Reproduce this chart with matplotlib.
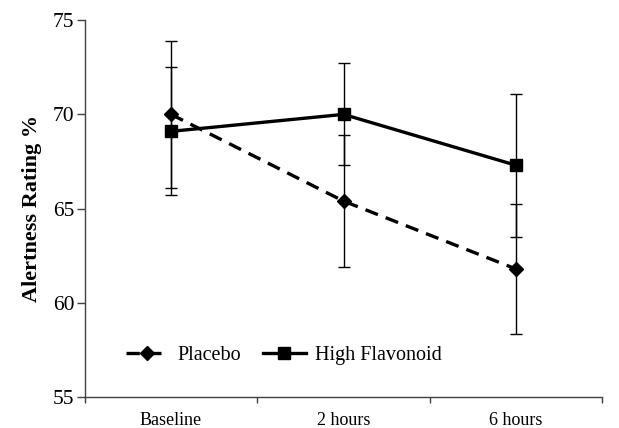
import numpy as np
import matplotlib
matplotlib.use("Agg")
import matplotlib.pyplot as plt

plt.rcParams["font.family"] = ["Liberation Serif", "DejaVu Serif"]

# ─── DATA ─────────────────────────────────────────────────────────────────────
categories    = ["Baseline", "2 hours", "6 hours"]
placebo       = [70.0, 65.4, 61.8]
placebo_err   = [3.9, 3.5, 3.45]
flavonoid     = [69.1, 70.0, 67.3]
flavonoid_err = [3.4, 2.7, 3.8]
y_ticks       = [55, 60, 65, 70, 75]

x = np.arange(len(categories))

fig = plt.figure(figsize=(6.19, 4.28), dpi=100)
ax = fig.add_axes([0.137, 0.072, 0.836, 0.881])

# error bars (thin, solid)
ax.errorbar(x, placebo, yerr=placebo_err, fmt="none", ecolor="black",
            elinewidth=1, capsize=4, capthick=1, zorder=2)
ax.errorbar(x, flavonoid, yerr=flavonoid_err, fmt="none", ecolor="black",
            elinewidth=1, capsize=4, capthick=1, zorder=2)

# series lines
ax.plot(x, placebo, color="black", lw=2.4, ls=(0, (4, 2.5)), marker="D",
        ms=7, label="Placebo", zorder=3)
ax.plot(x, flavonoid, color="black", lw=2.4, ls="-", marker="s",
        ms=9, label="High Flavonoid", zorder=3)

ax.set_xlim(-0.5, 2.5)
ax.set_ylim(55, 75)
ax.set_yticks(y_ticks)
ax.set_xticks(x)
ax.set_xticklabels(categories)
ax.set_xticks([-0.5, 0.5, 1.5, 2.5], minor=True)
ax.tick_params(axis="x", which="major", length=0, pad=11, labelsize=13)
ax.tick_params(axis="x", which="minor", length=4, direction="out", width=1,
               color="#404040")
ax.tick_params(axis="y", length=5.5, direction="out", width=1, labelsize=15.5,
               pad=2, color="#404040")

for s in ["top", "right"]:
    ax.spines[s].set_visible(False)
for s in ["left", "bottom"]:
    ax.spines[s].set_linewidth(1)
    ax.spines[s].set_color("#404040")

ax.set_ylabel("Alertness Rating %", fontsize=16, fontweight="bold", labelpad=8)

ax.legend(loc="lower left", bbox_to_anchor=(0.045, 0.037), ncol=2, frameon=False,
          prop={"family": "Liberation Serif", "size": 14.5},
          handlelength=2.1, handletextpad=0.45, columnspacing=1.1)

plt.savefig("out.png", dpi=100)
plt.close()
